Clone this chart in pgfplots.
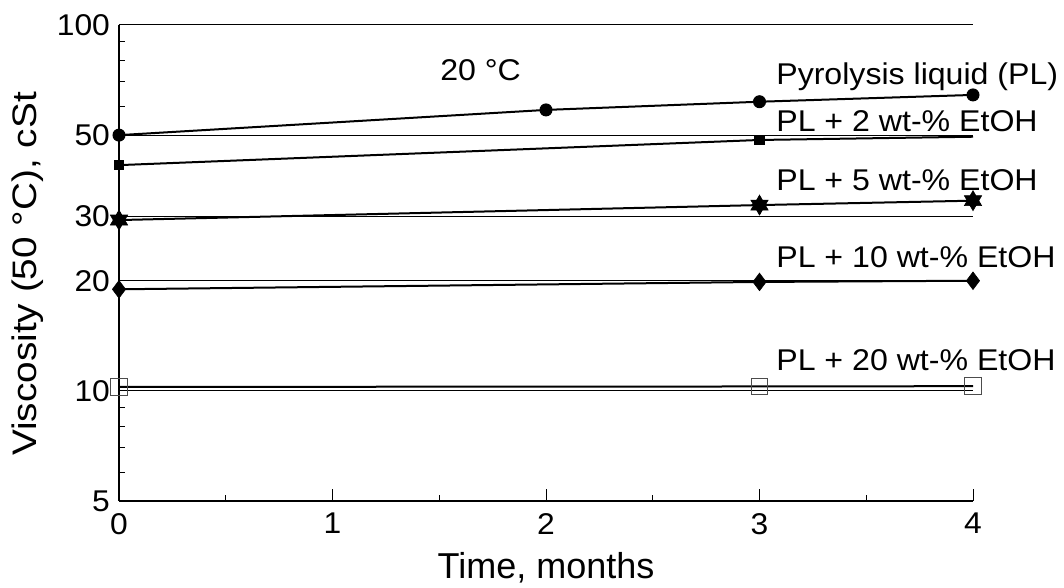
\documentclass[border=0pt]{standalone}
\usepackage{fontspec}
\setmainfont{Liberation Sans}
\newfontfamily\curvefont{Liberation Sans}[FakeStretch=1.07]
\newfontfamily\yfont{Liberation Sans}[FakeStretch=1.14]
\usepackage{graphicx}
\usepackage{pgfplots}
\pgfplotsset{compat=1.18}

% filled six-pointed star
\pgfdeclareplotmark{hexstar}{%
  \pgfpathmoveto{\pgfqpointpolar{90}{\pgfplotmarksize}}%
  \pgfpathlineto{\pgfqpointpolar{210}{\pgfplotmarksize}}%
  \pgfpathlineto{\pgfqpointpolar{330}{\pgfplotmarksize}}%
  \pgfpathclose
  \pgfpathmoveto{\pgfqpointpolar{270}{\pgfplotmarksize}}%
  \pgfpathlineto{\pgfqpointpolar{30}{\pgfplotmarksize}}%
  \pgfpathlineto{\pgfqpointpolar{150}{\pgfplotmarksize}}%
  \pgfpathclose
  \pgfusepathqfillstroke}

\newcommand{\lbl}{\curvefont\fontsize{15}{18}\selectfont}
% slightly widened tick numbers
\newcommand{\tl}[1]{\scalebox{1.06}[1]{\fontsize{15}{18}\selectfont #1}}

\begin{document}
\begin{tikzpicture}
\begin{axis}[
  at={(0,0)}, anchor=south west,
  scale only axis,
  width=427pt, height=238pt,
  ymode=log,
  xmin=0, xmax=4, ymin=5, ymax=100,
  clip=false,
  axis lines=left,
  axis line style={-, line width=1.2pt},
  xtick={0,1,2,3,4},
  xticklabels={\tl{0},\tl{1},\tl{2},\tl{3},\tl{4}},
  minor xtick={0.5,1.5,2.5,3.5},
  ytick={5,10,20,30,50,100},
  yticklabels={\tl{5},\tl{10},\tl{20},\tl{30},\tl{50},\tl{100}},
  minor ytick={6,7,8,9,60,70,80,90},
  tick align=inside,
  major tick length=6pt,
  minor tick length=3pt,
  tick style={black, line width=0.5pt},
  ymajorgrids,
  major grid style={black, line width=0.5pt},
  xticklabel style={anchor=north, yshift=-2.5pt},
  yticklabel style={anchor=east, xshift=-1pt},
  xlabel={Time, months},
  ylabel={Viscosity (50 °C), cSt},
  every axis x label/.style={at={(axis description cs:0.5,0)}, anchor=base, yshift=-38.7pt,
    font=\fontsize{18}{22}\selectfont},
  every axis y label/.style={at={(axis description cs:0,0.5)}, shift={(-41pt,-5.5pt)}, rotate=90, anchor=base,
    font=\yfont\fontsize{17}{21}\selectfont},
  every axis plot/.append style={black, line width=1pt},
]
% pyrolysis liquid
\addplot[mark=*, mark size=3pt, mark options={solid, line width=0.5pt}]
  coordinates {(0,50) (2,58.6) (3,61.7) (4,64.4)};
% + 2 wt-% EtOH
\addplot[mark=square*, mark size=2.4pt, mark indices={1,2}, mark options={solid, line width=0.5pt}]
  coordinates {(0,41.4) (3,48.5) (4,49.5)};
% + 5 wt-% EtOH
\addplot[mark=hexstar, mark size=5pt, mark options={solid, line width=0.3pt}]
  coordinates {(0,29.3) (3,32.2) (4,33.1)};
% + 10 wt-% EtOH
\addplot[mark=diamond*, mark size=4.4pt, mark options={solid, line width=0.3pt}]
  coordinates {(0,18.95) (3,19.85) (4,20.0)};
% + 20 wt-% EtOH
\addplot[mark=square, mark size=4.2pt, mark options={solid, draw=black!70, line width=0.5pt}]
  coordinates {(0,10.25) (3,10.28) (4,10.3)};

\node[anchor=base west, inner sep=0pt, font=\lbl] at (axis cs:1.503,70.7) {20 °C};
\node[anchor=base west, inner sep=0pt, font=\lbl] at (axis cs:3.077,68.6) {Pyrolysis liquid (PL)};
\node[anchor=base west, inner sep=0pt, font=\lbl] at (axis cs:3.077,51.0) {PL + 2 wt-\% EtOH};
\node[anchor=base west, inner sep=0pt, font=\lbl] at (axis cs:3.077,35.4) {PL + 5 wt-\% EtOH};
\node[anchor=base west, inner sep=0pt, font=\lbl] at (axis cs:3.077,21.8) {PL + 10 wt-\% EtOH};
\node[anchor=base west, inner sep=0pt, font=\lbl] at (axis cs:3.077,11.4) {PL + 20 wt-\% EtOH};
\end{axis}
\pgfresetboundingbox
\useasboundingbox (-59.5pt,-43.5pt) rectangle (472.5pt,250.5pt);
\end{tikzpicture}
\end{document}
